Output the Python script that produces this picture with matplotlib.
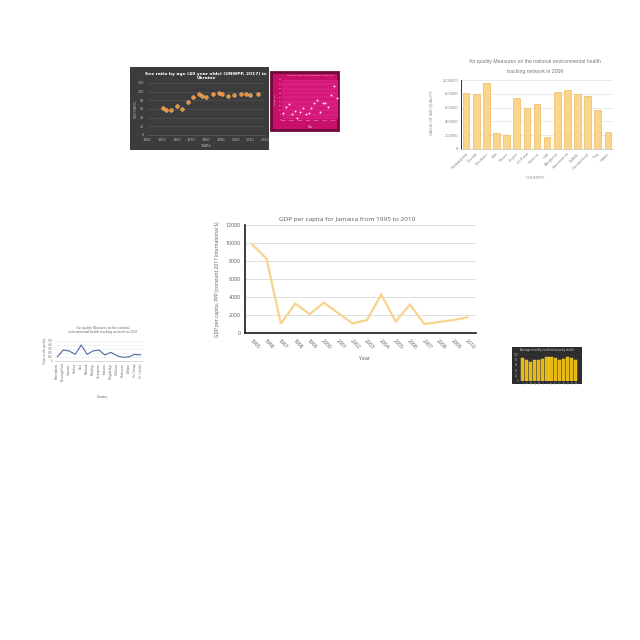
import matplotlib
matplotlib.use('Agg')
import matplotlib.pyplot as plt
from matplotlib.patches import Rectangle

# ---------------- data ----------------
# main chart: GDP per capita Jamaica
gdp_years = list(range(1995, 2011))
gdp_values = [9850, 8250, 1030, 3260, 2100, 3370, 2200, 1060, 1440, 4260, 1280, 3150, 1000, 1220, 1440, 1740]

# top-left: sex ratio Ukraine
sr_years = [1951, 1953, 1956, 1960, 1964, 1968, 1971, 1975, 1977, 1980, 1985, 1989,
            1991, 1995, 1999, 2004, 2007, 2010, 2015]
sr_values = [63, 58.5, 58.5, 66, 61, 77, 87, 94, 91, 88.5, 94, 96, 94, 91, 92, 95, 94, 92, 94]

# pink scatter
pk_years = list(range(1996, 2016))
pk_values = [7.3, 13.5, 17, 5.4, 8.9, 1.5, 8.4, 12.7, 6.1, 6.9, 13, 18.8, 21.9, 7.7,
             18.8, 18.8, 14.2, 27.3, 37.7, 24.2]

# air quality bar chart
aq_countries = ['Philadelphia', 'Oneida', 'Chatham', 'Yale', 'Essex', 'Jasper', 'El Paso',
                'Seneca', 'Hall', 'Alleghany', 'Sacramento', 'Suffolk', 'Cumberland', 'Troy', 'Salem']
aq_values = [805000, 795000, 950000, 235000, 205000, 735000, 590000, 650000, 175000,
             830000, 855000, 795000, 765000, 565000, 245000]
aq_yticks = [0, 200000, 400000, 600000, 800000, 1000000]

# blue line chart
bl_places = ['Bensonhurst', 'Borough Park', 'Canarsie', 'Chelsea', 'East', 'Flatbush',
             'Flushing', 'Greenpoint', 'Jamaica', 'Kingsbridge', 'Midtown', 'Rockaway',
             'Pelham', 'St. George', 'St. Charles']
bl_values = [108, 275, 250, 167, 400, 167, 250, 275, 150, 217, 133, 92, 100, 167, 150]

# small yellow bar chart
yb_months = ['J', 'F', 'M', 'A', 'M', 'J', 'J', 'A', 'S', 'O', 'N', 'D', 'Y1', 'Y2']
yb_values = [87, 77, 71, 79, 79, 81, 90, 90, 87, 77, 81, 90, 87, 79]

# ---------------- helpers ----------------
W = H = 640
fig = plt.figure(figsize=(6.4, 6.4), dpi=100)
fig.patch.set_facecolor('white')


def ax_px(l, t, r, b):
    return fig.add_axes([l / W, 1 - b / H, (r - l) / W, (b - t) / H])


def frame(l, t, r, b, fc, ec=None, lw=0):
    fig.add_artist(Rectangle((l / W, 1 - b / H), (r - l) / W, (b - t) / H,
                             transform=fig.transFigure, facecolor=fc,
                             edgecolor=ec if ec else fc, linewidth=lw, zorder=-5))


def ftext(x, y, s, **kw):
    fig.text(x / W, 1 - y / H, s, **kw)


# ---------------- main chart ----------------
MF = 'Open Sans'
ax = ax_px(245, 225, 476, 333)
ax.plot(gdp_years, gdp_values, color='#f7d48e', lw=1.6, solid_joinstyle='miter')
ax.set_xlim(1994.5, 2010.6)
ax.set_ylim(0, 12000)
ax.set_yticks(range(0, 12001, 2000))
ax.set_xticks(gdp_years)
ax.set_xticklabels([str(y) for y in gdp_years], rotation=-45, ha='left',
                   rotation_mode='anchor', fontsize=3.7, color='#595959', family=MF)
for lab in ax.get_yticklabels():
    lab.set_fontsize(3.9); lab.set_color('#595959'); lab.set_family(MF)
ax.tick_params(axis='both', length=0, pad=3)
ax.tick_params(axis='x', pad=4)
ax.grid(axis='y', color='#d9d9d9', lw=0.6)
ax.set_axisbelow(True)
for s in ['top', 'right']:
    ax.spines[s].set_visible(False)
ax.spines['left'].set_color('#1a1a1a'); ax.spines['left'].set_linewidth(1.2)
ax.spines['bottom'].set_color('#1a1a1a'); ax.spines['bottom'].set_linewidth(1.2)
ftext(347, 219, 'GDP per capita for Jamaica from 1995 to 2010', ha='center', va='center',
      fontsize=4.6, color='#595959', family=MF)
ftext(217, 279, 'GDP per capita, PPP (constant 2017 international $)', ha='center', va='center',
      rotation=90, fontsize=3.5, color='#595959', family=MF)
ftext(365, 359, 'Year', ha='center', va='center', fontsize=3.8, color='#595959', family=MF)

# ---------------- top-left dark scatter ----------------
frame(130, 67, 269, 150, '#3c3c3c')
a1 = ax_px(147, 83, 265, 135)
a1.set_facecolor('#3c3c3c')
a1.plot(sr_years, sr_values, 'o', ms=2.6, mfc='#f28a26', mec='#ffd2a0', mew=0.35, ls='none')
a1.set_xlim(1940, 2020); a1.set_ylim(0, 120)
a1.set_xticks(range(1940, 2021, 10)); a1.set_yticks(range(0, 121, 20))
a1.tick_params(length=0, labelsize=2.4, labelcolor='#bdbdbd', pad=2)
a1.grid(axis='y', color='#595959', lw=0.4)
a1.set_axisbelow(True)
for s in a1.spines.values():
    s.set_visible(False)
a1.spines['bottom'].set_visible(True); a1.spines['bottom'].set_color('#6a6a6a'); a1.spines['bottom'].set_linewidth(0.4)
ftext(206, 76, 'Sex ratio by age (40 year olds) (UNWPP, 2017) in\nUkraine', ha='center', va='center',
      fontsize=3.2, color='white', fontweight='bold', linespacing=1.1)
ftext(136, 110, 'SEX RATIO', rotation=90, ha='center', va='center', fontsize=2.3, color='#bdbdbd')
ftext(206, 146, 'YEARS', ha='center', va='center', fontsize=2.3, color='#bdbdbd')

# ---------------- pink scatter ----------------
frame(271, 72, 338, 130, '#c8106a', '#6e0a3c', 2)
a2 = ax_px(282, 80, 338, 119)
a2.set_facecolor('#d6177a')
a2.plot(pk_years, pk_values, 'o', ms=1.4, mfc='#ffe6f2', mec='none', ls='none', clip_on=False)
a2.set_xlim(1995.5, 2015.5); a2.set_ylim(0, 45)
a2.set_xticks(range(1996, 2016, 3)); a2.set_yticks(range(0, 46, 5))
a2.tick_params(length=0, labelsize=1.6, labelcolor='#ffd0e6', pad=0.6)
a2.grid(axis='y', color='#e04a92', lw=0.3)
a2.set_axisbelow(True)
for s in a2.spines.values():
    s.set_visible(False)
ftext(311, 75.5, 'Share of population with water access (%)', ha='center',
      va='center', fontsize=1.6, color='#ffd0e6')
ftext(275, 100, 'Share (%)', rotation=90, ha='center', va='center',
      fontsize=1.5, color='#ffd0e6')
ftext(310, 126.5, 'Year', ha='center', va='center', fontsize=1.8, color='#ffd0e6')

# ---------------- air quality bar chart ----------------
AF = 'Liberation Sans'
a3 = ax_px(461, 80, 613, 149)
a3.bar(range(len(aq_values)), aq_values, width=0.66, color='#fad58c', edgecolor='#f0bb60', lw=0.5)
a3.set_xlim(-0.5, len(aq_values) - 0.5); a3.set_ylim(0, 1000000)
a3.set_yticks(aq_yticks)
a3.set_yticklabels([str(v) for v in aq_yticks], fontsize=3.0, color='#8a8a8a', family=AF)
a3.set_xticks(range(len(aq_countries)))
a3.set_xticklabels(aq_countries, rotation=45, ha='right', rotation_mode='anchor',
                   fontsize=3.0, color='#8a8a8a', family=AF)
a3.tick_params(length=0, pad=2)
a3.grid(axis='y', color='#e3e3e3', lw=0.5)
a3.set_axisbelow(True)
for s in ['top', 'right']:
    a3.spines[s].set_visible(False)
a3.spines['left'].set_color('#333333'); a3.spines['left'].set_linewidth(0.7)
a3.spines['bottom'].set_color('#bbbbbb'); a3.spines['bottom'].set_linewidth(0.5)
ftext(535, 61, 'Air quality Measures on the national environmental health', ha='center', va='center',
      fontsize=3.7, color='#7a7a7a', family=AF)
ftext(535, 71, 'tracking network in 2009', ha='center', va='center',
      fontsize=3.7, color='#7a7a7a', family=AF)
ftext(432, 113, 'VALUE OF AIR QUALITY', rotation=90, ha='center', va='center',
      fontsize=2.9, color='#8a8a8a', family=AF)
ftext(535, 178, 'COUNTRY', ha='center', va='center', fontsize=2.9, color='#8a8a8a', family=AF)

# ---------------- blue line chart ----------------
SF = 'Liberation Serif'
a4 = ax_px(55, 341, 143, 361)
a4.plot(range(len(bl_values)), bl_values, color='#4a6aa0', lw=0.8)
a4.set_xlim(-0.4, len(bl_values) - 0.6); a4.set_ylim(0, 500)
a4.set_yticks(range(0, 501, 100))
a4.set_yticklabels([str(v) for v in range(0, 501, 100)], fontsize=2.3, color='#777777', family=SF)
a4.set_xticks(range(len(bl_places)))
a4.set_xticklabels(bl_places, rotation=90, ha='center', va='top', fontsize=2.3,
                   color='#666666', family=SF)
a4.tick_params(length=0, pad=1.5)
a4.grid(axis='y', color='#e6e6e6', lw=0.4)
a4.set_axisbelow(True)
for s in ['top', 'right', 'left']:
    a4.spines[s].set_visible(False)
a4.spines['bottom'].set_color('#bbbbbb'); a4.spines['bottom'].set_linewidth(0.4)
ftext(103, 330, 'Air quality Measures on the national\nenvironmental health tracking network in 2009',
      ha='center', va='center', fontsize=2.6, color='#666666', family=SF, linespacing=1.0)
ftext(45, 351, 'Value of the quality', rotation=90, ha='center', va='center',
      fontsize=2.3, color='#666666', family=SF)
ftext(103, 397, 'Country', ha='center', va='center', fontsize=2.5, color='#666666', family=SF)

# ---------------- small dark yellow bar chart ----------------
frame(512, 347, 582, 384, '#2d2d2d')
a5 = ax_px(519, 354, 579, 381)
a5.set_facecolor('#2d2d2d')
a5.bar(range(len(yb_values)), yb_values, width=0.76, color='#e7b70e', edgecolor='#f6d34a', lw=0.3)
a5.set_xlim(-0.9, len(yb_values) - 0.1); a5.set_ylim(0, 100)
a5.set_xticks(range(len(yb_months)))
a5.set_xticklabels(yb_months, fontsize=1.8, color='#aaaaaa')
a5.set_yticks(range(0, 101, 20))
a5.tick_params(length=0, labelsize=1.8, labelcolor='#aaaaaa', pad=0.8)
a5.grid(axis='y', color='#444444', lw=0.3)
a5.set_axisbelow(True)
for s in a5.spines.values():
    s.set_visible(False)
ftext(547, 350.5, 'Average monthly sunshine hours by month', ha='center',
      va='center', fontsize=1.8, color='#dddddd')

fig.savefig('out.png', dpi=100, facecolor='white')
